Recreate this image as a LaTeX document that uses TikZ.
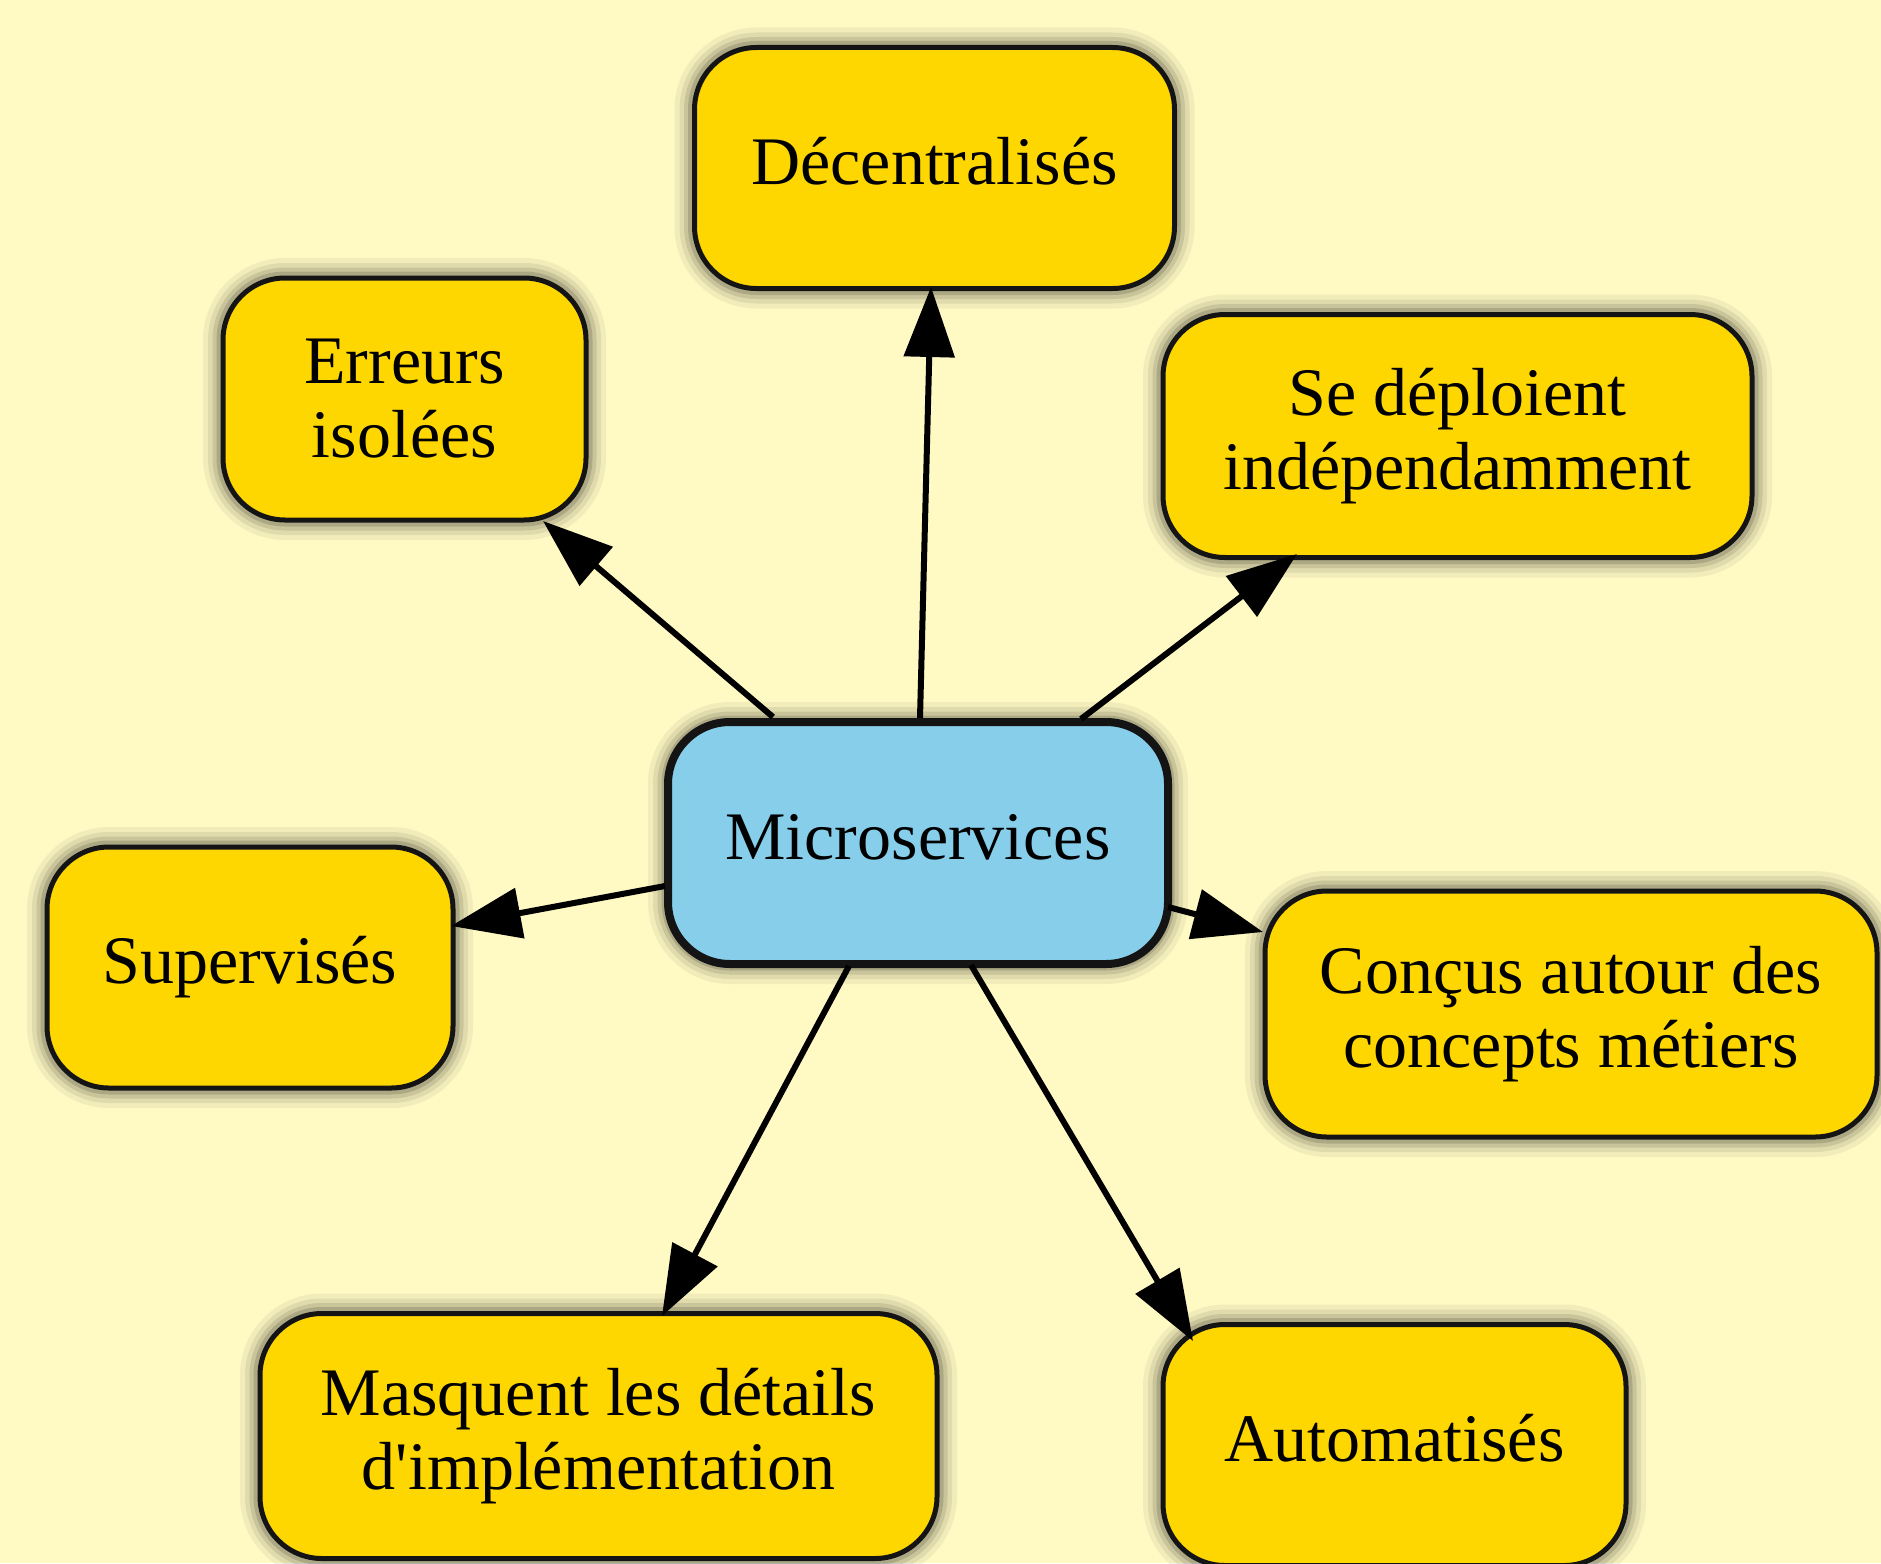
\documentclass[tikz,border=0pt]{standalone}
\usepackage{fontspec}
\setmainfont{Liberation Serif}
\usetikzlibrary{arrows.meta}
\definecolor{bgc}{HTML}{FFF9C4}
\definecolor{goldc}{HTML}{FFD700}
\definecolor{skyc}{HTML}{87CEEB}
\definecolor{bordc}{HTML}{141414}
\begin{document}
\begin{tikzpicture}[x=1pt,y=-1pt,
  glow/.style={
    preaction={draw=black,draw opacity=0.05,line width=40pt},
    preaction={draw=black,draw opacity=0.07,line width=30pt},
    preaction={draw=black,draw opacity=0.10,line width=21pt},
    preaction={draw=black,draw opacity=0.14,line width=13pt}},
  box/.style={glow, rectangle, rounded corners=62pt, draw=bordc, line width=5pt,
    fill=goldc, inner sep=0pt, align=center,
    font=\fontsize{68}{74}\selectfont},
  oneline/.style={text height=50pt, text depth=18pt},
  hub/.style={box, fill=skyc, line width=8pt},
  edge/.style={line width=6pt, draw=black, -{Triangle[length=70pt,width=50pt]}}]
\path[use as bounding box, fill=bgc] (0,0) rectangle (1881,1563);

\node[hub, oneline, minimum width=500pt, minimum height=242pt] (m) at (918,843) {Microservices};
\node[box, oneline, minimum width=480pt, minimum height=241pt] (dec) at (934.5,168) {Décentralisés};
\node[box, minimum width=363pt, minimum height=242pt] (err) at (404.5,399) {Erreurs\\isolées};
\node[box, minimum width=589pt, minimum height=243pt] (dep) at (1457.5,436) {Se déploient\\indépendamment};
\node[box, oneline, minimum width=406pt, minimum height=241pt] (sup) at (250,967.5) {Supervisés};
\node[box, minimum width=612pt, minimum height=246pt] (con) at (1571,1014) {Conçus autour des\\concepts métiers};
\node[box, minimum width=677pt, minimum height=245pt] (mas) at (598.5,1436) {Masquent les détails\\d\textquotesingle implémentation};
\node[box, oneline, minimum width=463pt, minimum height=241pt] (aut) at (1394.5,1445) {Automatisés};

\draw[edge] ([shift={(2,-125)}]m.center) -- ([shift={(-3.5,119)}]dec.center);
\draw[edge] ([shift={(-145,-126)}]m.center) -- ([shift={(138.5,122)}]err.center);
\draw[edge] ([shift={(163,-124)}]m.center) -- ([shift={(-160.5,118)}]dep.center);
\draw[edge] ([shift={(-253,43)}]m.center) -- ([shift={(201,-41.5)}]sup.center);
\draw[edge] ([shift={(250,64)}]m.center) -- ([shift={(-308,-82)}]con.center);
\draw[edge] ([shift={(-69,123)}]m.center) -- ([shift={(63.5,-120)}]mas.center);
\draw[edge] ([shift={(53,122)}]m.center) -- ([shift={(-201.5,-104)}]aut.center);
\end{tikzpicture}
\end{document}
